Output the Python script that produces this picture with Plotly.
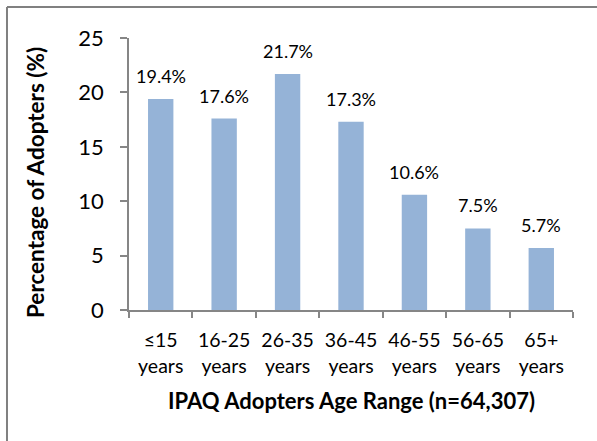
import plotly.graph_objects as go

categories = ["≤15<br>years", "16-25<br>years", "26-35<br>years", "36-45<br>years",
              "46-55<br>years", "56-65<br>years", "65+<br>years"]
values = [19.4, 17.6, 21.7, 17.3, 10.6, 7.5, 5.7]
labels = ["19.4%", "17.6%", "21.7%", "17.3%", "10.6%", "7.5%", "5.7%"]
y_ticks = [0, 5, 10, 15, 20, 25]

FONT = "Lato, Calibri, Carlito, sans-serif"
AXIS_COLOR = "#868686"

fig = go.Figure()
fig.add_trace(go.Bar(x=categories, y=values, marker=dict(color="#95B3D7", line=dict(width=0)),
                     hoverinfo="skip"))

for c, v, t in zip(categories, values, labels):
    fig.add_annotation(x=c, y=v, text=t, showarrow=False, yanchor="bottom", yshift=10,
                       font=dict(family=FONT, size=18, color="#000000"))

fig.add_annotation(xref="paper", yref="paper", x=-0.212, y=0.47, text="<b>Percentage of Adopters (%)</b>",
                   textangle=-90, showarrow=False, xanchor="center", yanchor="middle",
                   font=dict(family=FONT, size=22.5, color="#000000"))
fig.add_annotation(xref="paper", yref="paper", x=0.5, y=-0.331, text="<b>IPAQ Adopters Age Range (n=64,307)</b>",
                   showarrow=False, xanchor="center", yanchor="middle",
                   font=dict(family=FONT, size=22, color="#000000"))

# outer frame lines (top and left)
fig.add_shape(type="line", xref="paper", yref="paper", x0=-0.2748, x1=1.06, y0=1.114, y1=1.114,
              line=dict(color="#808080", width=2))
fig.add_shape(type="line", xref="paper", yref="paper", x0=-0.2748, x1=-0.2748, y0=1.114, y1=-0.49,
              line=dict(color="#808080", width=2))

fig.update_layout(
    width=597, height=441,
    margin=dict(l=129, r=24, t=38, b=131),
    paper_bgcolor="white", plot_bgcolor="white",
    bargap=0.6, showlegend=False,
    font=dict(family=FONT, color="#000000"),
)
fig.update_xaxes(showline=True, linecolor=AXIS_COLOR, linewidth=1.5, ticks="outside",
                 tickcolor=AXIS_COLOR, ticklen=6, tickwidth=1.5, tickson="boundaries",
                 ticklabelstandoff=12,
                 tickfont=dict(family=FONT, size=19.5, color="#000000"), showgrid=False)
fig.update_yaxes(range=[0, 25], tickvals=y_ticks, showline=True, linecolor=AXIS_COLOR, linewidth=1.5,
                 ticks="outside", tickcolor=AXIS_COLOR, ticklen=7, tickwidth=1.5,
                 ticklabelstandoff=12,
                 tickfont=dict(family=FONT, size=22, color="#000000"), showgrid=False, zeroline=False)

fig.write_html("out.html", config={"displayModeBar": False},
               post_script="document.body.style.margin='0';")
